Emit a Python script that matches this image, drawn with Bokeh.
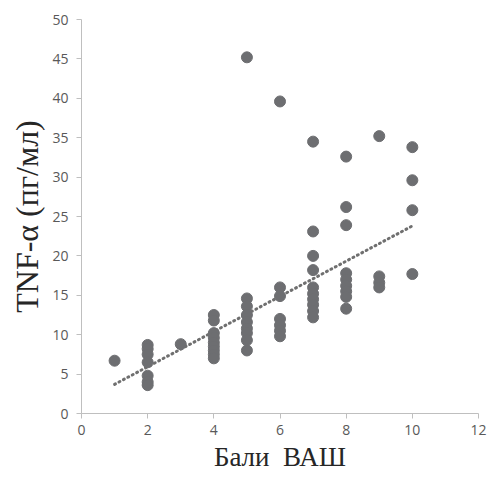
from bokeh.plotting import figure
from bokeh.models import ColumnDataSource, FixedTicker
from bokeh.embed import file_html
from bokeh.resources import INLINE

x_score = [1,
           2, 2, 2, 2, 2, 2, 2,
           3,
           4, 4, 4, 4, 4, 4, 4, 4, 4,
           5, 5, 5, 5, 5, 5, 5, 5, 5,
           6, 6, 6, 6, 6, 6, 6,
           7, 7, 7, 7, 7, 7, 7, 7, 7, 7,
           8, 8, 8, 8, 8, 8, 8, 8, 8,
           9, 9, 9, 9,
           10, 10, 10, 10]
tnf = [6.7,
       8.7, 8.2, 7.5, 6.5, 4.8, 4.0, 3.6,
       8.8,
       12.5, 11.8, 10.2, 9.6, 9.0, 8.5, 8.0, 7.5, 7.0,
       45.2, 14.6, 13.6, 12.5, 11.6, 10.8, 10.2, 9.3, 8.0,
       39.6, 16.0, 14.9, 12.0, 11.2, 10.5, 9.8,
       34.5, 23.1, 20.0, 18.2, 16.0, 15.2, 14.5, 13.8, 13.0, 12.2,
       32.6, 26.2, 23.9, 17.8, 17.0, 16.2, 15.5, 14.8, 13.3,
       35.2, 17.4, 16.6, 16.0,
       33.8, 29.6, 25.8, 17.7]

# linear trend line
trend_x = [1, 10]
trend_y = [3.7, 23.8]

x_ticks = [0, 2, 4, 6, 8, 10, 12]
y_ticks = [0, 5, 10, 15, 20, 25, 30, 35, 40, 45, 50]

p = figure(width=488, height=477, output_backend="svg", toolbar_location=None,
           x_range=(0, 12), y_range=(0, 50),
           min_border_left=81, min_border_right=10, min_border_top=19, min_border_bottom=64)
p.outline_line_color = None
p.xgrid.grid_line_color = None
p.ygrid.grid_line_color = None
p.background_fill_color = "white"
p.border_fill_color = "white"

src = ColumnDataSource(dict(x=x_score, y=tnf))
p.line(trend_x, trend_y, line_color="#6f6f6f", line_width=3, line_dash="1 4", line_cap="round")
p.scatter("x", "y", source=src, size=11, fill_color="#6d6e71", line_color="#6d6e71")

for ax in (p.xaxis[0], p.yaxis[0]):
    ax.axis_line_color = "#bfbfbf"
    ax.major_tick_line_color = "#bfbfbf"
    ax.minor_tick_line_color = None
    ax.major_tick_out = 5
    ax.major_tick_in = 0
    ax.major_label_text_color = "#595959"
    ax.major_label_text_font = "Open Sans"
    ax.major_label_text_font_size = "14px"
    ax.axis_label_text_font = "Liberation Serif"
    ax.axis_label_text_font_style = "normal"
    ax.axis_label_text_color = "#262626"

p.xaxis.axis_label_text_font_size = "27px"
p.yaxis.axis_label_text_font_size = "32px"
p.xaxis.ticker = FixedTicker(ticks=x_ticks)
p.yaxis.ticker = FixedTicker(ticks=y_ticks)
p.xaxis.axis_label = "Бали\u00a0\u00a0ВАШ"
p.yaxis.axis_label = "TNF-α (пг/мл)"
p.xaxis.major_label_standoff = 6
p.yaxis.major_label_standoff = 8
p.xaxis.axis_label_standoff = 4
p.yaxis.axis_label_standoff = 4

open("out.html", "w").write(file_html(p, INLINE))
